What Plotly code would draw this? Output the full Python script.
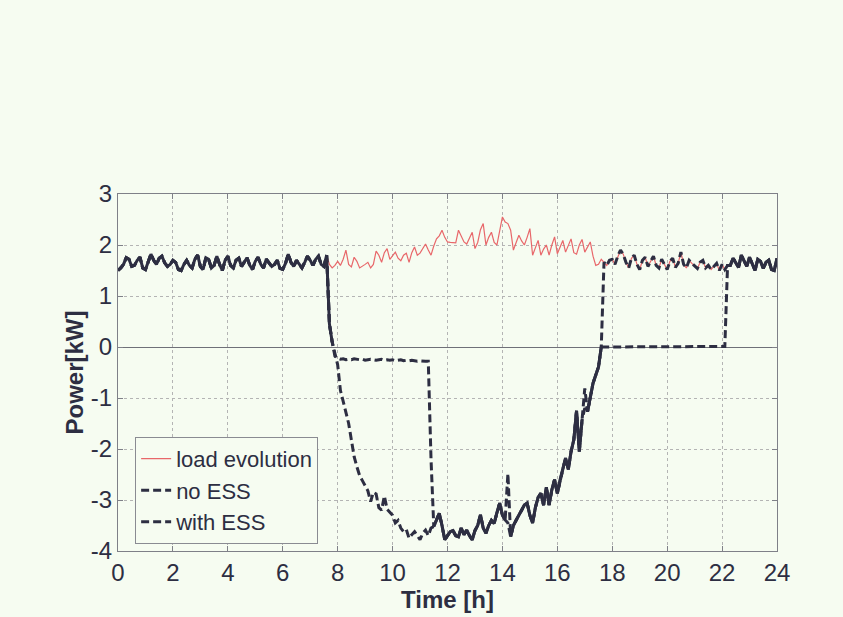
import numpy as np
import plotly.graph_objects as go

# time grid (hours), 0.1 h resolution
time_h = np.round(np.arange(0, 241) * 0.1, 1)

load = [
    1.50, 1.55, 1.62, 1.75, 1.72, 1.58, 1.60, 1.70, 1.76, 1.55,
    1.52, 1.68, 1.82, 1.70, 1.62, 1.74, 1.78, 1.65, 1.58, 1.62,
    1.70, 1.66, 1.52, 1.50, 1.62, 1.70, 1.60, 1.55, 1.72, 1.80,
    1.58, 1.52, 1.75, 1.72, 1.55, 1.60, 1.78, 1.62, 1.50, 1.70,
    1.78, 1.60, 1.55, 1.70, 1.74, 1.58, 1.66, 1.75, 1.60, 1.52,
    1.68, 1.76, 1.62, 1.55, 1.72, 1.66, 1.58, 1.62, 1.70, 1.54,
    1.52, 1.64, 1.82, 1.66, 1.58, 1.70, 1.62, 1.55, 1.66, 1.78,
    1.70, 1.60, 1.72, 1.78, 1.62, 1.58, 1.80, 1.62, 1.55, 1.60,
    1.68, 1.60, 1.72, 1.90, 1.62, 1.57, 1.76, 1.68, 1.55, 1.58,
    1.62, 1.66, 1.55, 1.62, 1.88, 1.80, 1.66, 1.85, 1.93, 1.72,
    1.78, 1.86, 1.74, 1.69, 1.80, 1.84, 1.66, 1.85, 1.96, 1.80,
    1.84, 1.92, 2.02, 1.90, 1.80, 1.98, 2.12, 2.18, 2.29, 2.15,
    2.06, 2.05, 2.04, 2.04, 2.29, 2.18, 2.06, 2.02, 2.12, 2.25,
    1.93, 2.05, 2.30, 2.42, 2.00, 2.15, 2.25, 2.05, 2.00, 2.30,
    2.55, 2.45, 2.42, 2.29, 1.90, 2.05, 2.19, 2.08, 2.00, 2.15,
    2.32, 1.80, 1.95, 2.09, 1.80, 1.92, 2.00, 1.80, 2.00, 2.16,
    1.83, 1.95, 2.09, 1.86, 1.98, 2.12, 1.85, 1.82, 2.00, 2.11,
    1.86, 1.95, 2.06, 1.78, 1.60, 1.62, 1.72, 1.66, 1.60, 1.70,
    1.72, 1.62, 1.78, 1.90, 1.82, 1.66, 1.55, 1.74, 1.80, 1.62,
    1.52, 1.70, 1.76, 1.58, 1.68, 1.78, 1.60, 1.55, 1.72, 1.62,
    1.52, 1.68, 1.74, 1.56, 1.64, 1.86, 1.62, 1.55, 1.70, 1.64,
    1.58, 1.54, 1.66, 1.70, 1.55, 1.60, 1.52, 1.58, 1.64, 1.50,
    1.62, 1.52, 1.60, 1.60, 1.74, 1.66, 1.56, 1.80, 1.70, 1.58,
    1.76, 1.62, 1.50, 1.72, 1.68, 1.54, 1.66, 1.70, 1.52, 1.50,
    1.74,
]

# grid power without storage (same as load outside 7.7 h .. 17.6 h)
no_ess_day = [  # 7.7 .. 17.6 h
    0.45, 0.10, -0.15, -0.35, -0.85, -1.10, -1.28, -1.50, -1.80, -2.15,
    -2.35, -2.52, -2.62, -2.72, -2.82, -3.03, -2.85, -2.88, -3.15, -3.20,
    -2.92, -3.18, -3.25, -3.30, -3.45, -3.40, -3.55, -3.62, -3.58, -3.75,
    -3.68, -3.62, -3.70, -3.78, -3.65, -3.59, -3.70, -3.55, -3.52, -3.40,
    -3.26, -3.50, -3.78, -3.70, -3.62, -3.60, -3.70, -3.72, -3.55, -3.68,
    -3.59, -3.70, -3.78, -3.60, -3.50, -3.29, -3.55, -3.65, -3.50, -3.40,
    -3.46, -3.25, -3.06, -3.30, -3.39, -3.45, -3.72, -3.50, -3.39, -3.30,
    -3.20, -3.10, -3.06, -3.30, -3.45, -3.15, -2.95, -2.87, -3.10, -2.75,
    -3.10, -2.80, -2.60, -2.87, -2.60, -2.40, -2.18, -2.40, -2.05, -1.82,
    -1.25, -2.05, -1.43, -1.20, -1.27, -0.95, -0.71, -0.55, -0.39, 0.00,
]

# grid power with storage, 7.7 .. 22.1 h
with_ess_day = [
    0.45, 0.10, -0.18, -0.22, -0.24, -0.23, -0.25, -0.24, -0.25, -0.23,
    -0.24, -0.25, -0.24, -0.26, -0.25, -0.24, -0.25, -0.26, -0.25, -0.24,
    -0.26, -0.25, -0.26, -0.25, -0.27, -0.26, -0.25, -0.27, -0.26, -0.27,
    -0.26, -0.27, -0.28, -0.27, -0.28, -0.28, -0.28, -2.20, -3.52, -3.40,
    -3.26, -3.50, -3.78, -3.70, -3.62, -3.60, -3.70, -3.72, -3.55, -3.68,
    -3.59, -3.70, -3.78, -3.60, -3.50, -3.29, -3.55, -3.65, -3.50, -3.40,
    -3.46, -3.25, -3.06, -3.30, -3.39, -2.48, -3.72, -3.50, -3.39, -3.30,
    -3.20, -3.10, -3.06, -3.30, -3.45, -3.15, -2.95, -2.87, -3.10, -2.75,
    -3.10, -2.80, -2.60, -2.87, -2.60, -2.40, -2.18, -2.40, -2.05, -1.82,
    -1.25, -2.05, -1.43, -0.81, -1.27, -0.95, -0.71, -0.55, -0.39, 0.00,
    0.00, 0.00, 0.00, 0.00, 0.00, 0.00, 0.00, 0.00, 0.00, 0.00,
    0.00, 0.00, 0.00, 0.00, 0.00, 0.00, 0.00, 0.00, 0.00, 0.00,
    0.00, 0.00, 0.00, 0.00, 0.00, 0.00, 0.00, 0.00, 0.00, 0.00,
    0.00, 0.00, 0.00, 0.00, 0.00, 0.00, 0.00, 0.00, 0.00, 0.00,
    0.00, 0.00, 0.00, 0.00, 0.01,
]

x_ticks = list(range(0, 25, 2))
y_ticks = [-4, -3, -2, -1, 0, 1, 2, 3]
y_tick_text = ["-4", "-3", "-2", "-1", "0", "1", "2", "3"]

load = np.array(load)
no_ess = load.copy()
no_ess[77:77 + len(no_ess_day)] = no_ess_day
with_ess = load.copy()
with_ess[77:77 + len(with_ess_day)] = with_ess_day

# segments where both grid curves coincide (they render as a solid stroke)
shared = np.where(np.isclose(no_ess, with_ess), no_ess, np.nan)

BG = "#f6fcf1"
DARK = "#2d2e42"
RED = "#e8676a"
FONT = "Liberation Sans, Arial, sans-serif"

fig = go.Figure()
fig.add_trace(go.Scatter(x=time_h, y=load, mode="lines", name="load evolution",
                         line=dict(color=RED, width=1.2)))
fig.add_trace(go.Scatter(x=time_h, y=no_ess, mode="lines", name="no ESS",
                         line=dict(color=DARK, width=3, dash="8px,4px")))
fig.add_trace(go.Scatter(x=time_h, y=with_ess, mode="lines", name="with ESS",
                         line=dict(color=DARK, width=3, dash="8px,4px")))
fig.add_trace(go.Scatter(x=time_h, y=shared, mode="lines", showlegend=False,
                         hoverinfo="skip", connectgaps=False,
                         line=dict(color=DARK, width=3)))

axis_common = dict(
    showline=True, linecolor="#7f8088", linewidth=1, mirror="ticks",
    ticks="inside", ticklen=5, tickcolor="#7f8088",
    showgrid=True, gridcolor="#b4b4b4", griddash="dot", gridwidth=1,
    tickfont=dict(family=FONT, size=24, color="#2d2e42"),
)

fig.update_xaxes(range=[0, 24], tickvals=x_ticks, zeroline=False, **axis_common)
fig.update_yaxes(range=[-4, 3], tickvals=y_ticks, ticktext=y_tick_text,
                 zeroline=True, zerolinecolor="#6f7078", zerolinewidth=1,
                 title=dict(text="<b>Power[kW]</b>", standoff=0,
                            font=dict(family=FONT, size=24, color="#2d2e42")),
                 **axis_common)

fig.update_layout(
    width=843, height=617,
    margin=dict(l=118, r=66, t=194, b=66),
    paper_bgcolor=BG, plot_bgcolor=BG,
    font=dict(family=FONT, color="#2d2e42"),
    showlegend=True,
    legend=dict(x=0.026, y=0.32, xanchor="left", yanchor="top",
                bgcolor=BG, bordercolor="#8a8b92", borderwidth=1,
                font=dict(family=FONT, size=22, color="#2d2e42"),
                itemwidth=30, tracegroupgap=0),
    annotations=[dict(text="<b>Time [h]</b>", xref="paper", yref="paper",
                      x=0.5, y=-0.093, xanchor="center", yanchor="top",
                      showarrow=False,
                      font=dict(family=FONT, size=24, color="#2d2e42"))],
)

fig.write_html("out.html")
